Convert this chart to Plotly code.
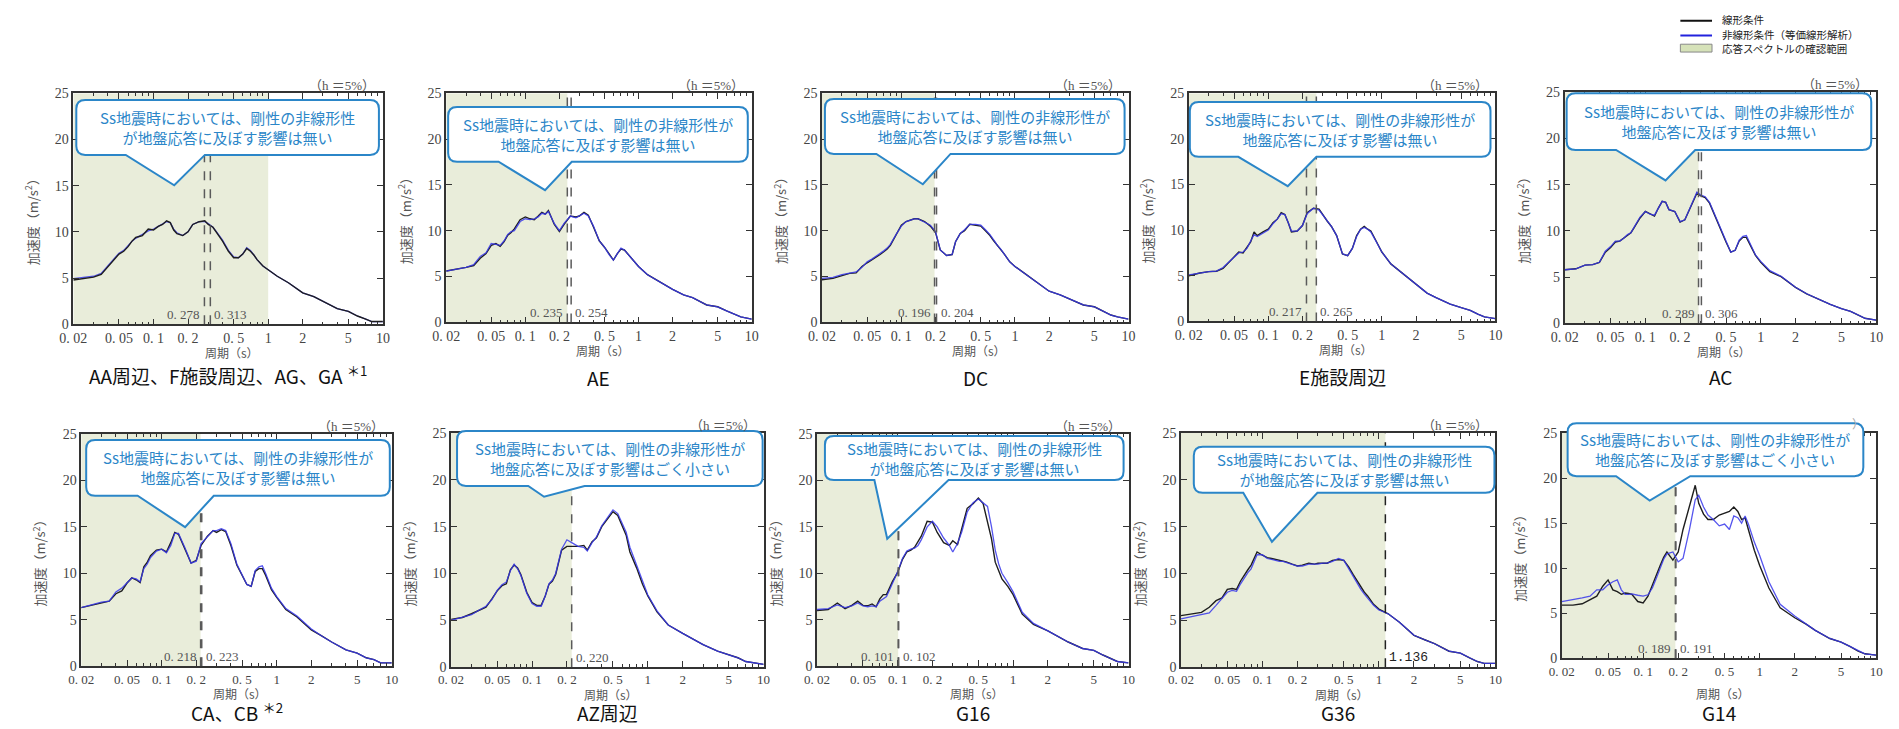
import math
import plotly.graph_objects as go

# ---------------- data ----------------
PERIOD = [0.02, 0.025, 0.03, 0.035, 0.04, 0.045, 0.05, 0.055, 0.06, 0.065,
          0.07, 0.075, 0.08, 0.09, 0.1, 0.11, 0.12, 0.13, 0.14, 0.15,
          0.16, 0.18, 0.2, 0.22, 0.25, 0.28, 0.3, 0.33, 0.36, 0.4,
          0.45, 0.5, 0.55, 0.6, 0.65, 0.7, 0.75, 0.8, 0.9, 1.0,
          1.2, 1.5, 2, 2.5, 3, 4, 5, 6, 7, 8,
          10]

LIN_AA = [4.8, 5.0, 5.1, 5.4, 6.2, 7.0, 7.6, 7.9, 8.4, 9.0,
          9.4, 9.5, 9.6, 10.3, 10.2, 10.6, 10.8, 11.2, 11.0, 10.2,
          9.8, 9.6, 10.0, 10.8, 11.1, 11.2, 10.8, 10.5, 9.8, 9.0,
          7.9, 7.2, 7.2, 7.6, 8.2, 7.9, 7.5, 7.0, 6.3, 5.9,
          5.2, 4.5, 3.4, 3.0, 2.5, 1.7, 1.4, 0.9, 0.6, 0.3,
          0.3]
NL_AA = [4.95, 5.1, 5.2, 5.5, 6.3, 7.1, 7.7, 8.0, 8.5, 9.0,
         9.3, 9.5, 9.7, 10.1, 10.3, 10.6, 10.9, 11.1, 11.0, 10.3,
         9.9, 9.6, 10.0, 10.8, 11.1, 11.1, 10.9, 10.5, 9.9, 9.1,
         8.0, 7.3, 7.2, 7.6, 8.3, 8.0, 7.5, 7.0, 6.3, 5.9,
         5.2, 4.5, 3.4, 3.0, 2.5, 1.7, 1.4, 0.9, 0.6, 0.3,
         0.3]

LIN_AE = [5.6, 5.8, 6.0, 6.2, 7.0, 7.5, 8.4, 8.6, 8.3, 8.8,
          9.5, 9.8, 10.2, 11.2, 11.5, 11.3, 11.2, 11.6, 12.0, 11.8,
          12.2, 10.7, 9.9, 10.7, 11.6, 11.5, 11.6, 12.0, 11.7, 10.4,
          8.9, 8.2, 7.4, 6.8, 7.5, 8.0, 7.9, 7.5, 6.7, 6.1,
          5.2, 4.5, 3.6, 3.0, 2.7, 1.9, 1.7, 1.25, 0.9, 0.6,
          0.35]
NL_AE = [5.6, 5.8, 6.0, 6.3, 7.2, 7.6, 8.6, 8.5, 8.4, 8.9,
         9.6, 9.9, 10.0, 11.0, 11.3, 11.2, 11.3, 11.5, 11.9, 11.8,
         12.1, 10.8, 10.0, 10.8, 11.6, 11.4, 11.6, 11.9, 11.6, 10.5,
         8.9, 8.2, 7.4, 6.8, 7.5, 8.1, 7.9, 7.5, 6.7, 6.1,
         5.2, 4.5, 3.6, 3.0, 2.7, 1.9, 1.7, 1.25, 0.9, 0.6,
         0.35]

LIN_DC = [4.65, 4.8, 5.1, 5.35, 5.4, 6.1, 6.5, 6.8, 7.1, 7.4,
          7.7, 8.0, 8.4, 9.5, 10.6, 11.0, 11.2, 11.3, 11.3, 11.1,
          11.0, 10.5, 9.8, 7.9, 7.3, 7.4, 8.8, 9.7, 10.0, 10.7,
          10.6, 10.5, 10.0, 9.5, 8.9, 8.4, 8.0, 7.5, 6.6, 6.1,
          5.4, 4.5, 3.4, 3.0, 2.6, 1.9, 1.7, 1.25, 0.8, 0.6,
          0.35]
NL_DC = [4.8, 4.9, 5.2, 5.4, 5.5, 6.0, 6.6, 6.9, 7.2, 7.5,
         7.8, 8.1, 8.5, 9.6, 10.5, 11.0, 11.2, 11.3, 11.3, 11.1,
         11.0, 10.6, 9.9, 7.9, 7.3, 7.4, 8.8, 9.7, 10.1, 10.7,
         10.7, 10.6, 10.1, 9.6, 9.0, 8.4, 8.0, 7.5, 6.6, 6.1,
         5.4, 4.5, 3.4, 3.0, 2.6, 1.9, 1.7, 1.25, 0.8, 0.6,
         0.35]

LIN_E = [5.0, 5.3, 5.45, 5.5, 5.8, 6.5, 7.1, 7.6, 7.5, 8.2,
         8.7, 9.8, 9.4, 9.8, 10.1, 10.8, 11.2, 11.9, 11.7, 10.8,
         9.8, 9.9, 10.5, 11.9, 12.4, 12.3, 11.7, 11.0, 10.4, 9.4,
         7.4, 7.2, 8.0, 9.4, 10.1, 10.4, 10.1, 9.9, 8.7, 7.6,
         6.3, 5.3, 4.0, 3.1, 2.6, 1.9, 1.5, 1.2, 0.8, 0.5,
         0.3]
NL_E = [5.1, 5.3, 5.45, 5.5, 5.9, 6.5, 7.0, 7.5, 7.6, 8.0,
        8.8, 9.5, 9.3, 9.7, 10.0, 10.7, 11.2, 11.8, 11.7, 10.8,
        9.9, 9.9, 10.5, 11.8, 12.4, 12.2, 11.7, 11.0, 10.4, 9.4,
        7.4, 7.2, 8.0, 9.3, 10.1, 10.3, 10.1, 9.8, 8.6, 7.6,
        6.3, 5.3, 4.0, 3.1, 2.6, 1.9, 1.5, 1.2, 0.8, 0.5,
        0.3]

LIN_AC = [5.8, 5.9, 6.3, 6.35, 6.6, 7.7, 8.2, 8.8, 8.9, 9.2,
          9.5, 9.8, 10.35, 11.4, 12.1, 11.8, 11.6, 12.5, 13.2, 13.1,
          12.3, 12.1, 10.95, 11.2, 12.8, 14.1, 13.8, 13.6, 13.0, 11.6,
          10.2, 8.8, 7.7, 7.9, 8.9, 9.3, 9.3, 8.6, 7.35, 6.6,
          5.6, 5.05, 3.9, 3.2, 2.75, 2.05, 1.6, 1.3, 0.9, 0.55,
          0.35]
NL_AC = [5.8, 5.9, 6.3, 6.35, 6.6, 7.8, 8.3, 8.9, 8.9, 9.2,
         9.6, 9.8, 10.4, 11.5, 12.1, 11.8, 11.7, 12.5, 13.2, 13.1,
         12.3, 12.1, 11.0, 11.2, 12.8, 14.2, 13.9, 13.7, 13.1, 11.7,
         10.3, 8.9, 7.7, 7.9, 9.0, 9.4, 9.5, 8.7, 7.4, 6.7,
         5.7, 5.1, 3.9, 3.2, 2.75, 2.05, 1.6, 1.3, 0.9, 0.55,
         0.35]

LIN_CA = [6.3, 6.6, 6.85, 7.0, 7.8, 8.1, 8.95, 9.5, 9.3, 9.0,
          10.7, 11.2, 11.9, 12.5, 12.6, 12.3, 13.3, 14.4, 14.2, 13.3,
          12.5, 11.1, 11.4, 13.0, 14.0, 14.6, 14.4, 14.7, 14.5, 13.0,
          10.9, 9.8, 8.8, 8.6, 10.2, 10.5, 10.5, 9.8, 8.25, 7.4,
          6.1, 5.3, 3.9, 3.2, 2.6, 1.75, 1.4, 0.9, 0.7, 0.35,
          0.35]
NL_CA = [6.3, 6.6, 6.9, 7.0, 8.0, 8.4, 9.0, 9.5, 9.4, 9.1,
         10.5, 11.0, 11.7, 12.4, 12.6, 12.2, 13.0, 14.3, 14.3, 13.5,
         12.7, 11.1, 11.3, 13.2, 13.9, 14.6, 14.6, 14.8, 14.6, 13.2,
         11.0, 9.9, 8.8, 8.6, 10.3, 10.7, 10.8, 10.0, 8.4, 7.5,
         6.2, 5.4, 4.0, 3.2, 2.6, 1.75, 1.4, 0.9, 0.7, 0.35,
         0.35]

LIN_AZ = [5.1, 5.3, 5.7, 6.05, 6.4, 7.3, 8.15, 8.7, 8.9, 10.4,
          10.9, 10.6, 9.9, 8.0, 6.9, 6.6, 6.6, 7.6, 8.85, 9.2,
          9.9, 12.5, 12.9, 12.9, 12.9, 13.0, 12.5, 13.4, 13.8, 15.0,
          15.8, 16.6, 16.2, 15.1, 14.1, 12.3, 11.4, 10.6, 8.85, 7.6,
          5.9, 4.5, 3.6, 2.9, 2.4, 1.7, 1.3, 1.0, 0.6, 0.5,
          0.3]
NL_AZ = [5.0, 5.3, 5.6, 6.1, 6.5, 7.2, 8.2, 8.8, 9.1, 10.3,
         11.0, 10.5, 9.8, 7.9, 6.8, 6.5, 6.5, 7.6, 8.9, 9.3,
         10.0, 12.6, 13.6, 13.3, 12.9, 12.8, 12.4, 13.3, 13.9, 15.1,
         16.0, 16.8, 16.4, 15.4, 14.4, 12.8, 11.8, 10.8, 9.0, 7.7,
         6.0, 4.5, 3.6, 2.9, 2.4, 1.7, 1.3, 1.0, 0.6, 0.5,
         0.3]

LIN_G16 = [6.0, 6.1, 6.8, 6.2, 6.55, 7.0, 6.55, 6.5, 6.7, 6.4,
           7.25, 7.7, 7.7, 9.1, 10.1, 11.5, 12.3, 12.5, 12.8, 13.4,
           14.0, 15.6, 15.5, 14.4, 13.3, 13.0, 13.5, 13.1, 14.9, 17.0,
           17.5, 18.1, 17.5, 15.4, 13.7, 11.2, 10.2, 9.4, 8.6, 7.7,
           5.6, 4.5, 3.8, 3.1, 2.6, 1.9, 1.7, 1.2, 0.8, 0.5,
           0.35]
NL_G16 = [6.1, 6.2, 6.6, 6.3, 6.5, 6.8, 6.5, 6.4, 6.5, 6.4,
          7.0, 7.3, 7.5, 8.9, 10.2, 11.6, 12.4, 12.6, 12.7, 13.0,
          13.6, 15.0, 15.6, 15.0, 13.8, 13.0, 12.3, 13.2, 14.5, 16.6,
          17.6, 18.0, 17.6, 17.2, 15.0, 12.5, 11.0, 10.0, 9.0, 8.0,
          5.8, 4.6, 3.8, 3.1, 2.6, 1.9, 1.7, 1.2, 0.8, 0.5,
          0.35]

LIN_G36 = [5.5, 5.7, 5.85, 6.4, 7.1, 7.4, 8.3, 8.4, 8.3, 9.2,
           9.9, 10.4, 10.9, 12.3, 11.95, 11.7, 11.6, 11.5, 11.4, 11.3,
           11.25, 11.0, 10.8, 10.9, 11.1, 11.0, 11.1, 11.1, 11.1, 11.4,
           11.5, 11.4, 10.7, 9.9, 9.2, 8.5, 8.0, 7.6, 6.7, 6.2,
           5.7, 4.8, 3.4, 2.9, 2.5, 1.7, 1.5, 1.0, 0.6, 0.4,
           0.4]
NL_G36 = [5.15, 5.4, 5.6, 5.8, 6.6, 7.4, 8.0, 8.2, 8.1, 8.9,
          9.6, 10.1, 10.5, 12.0, 12.0, 11.6, 11.5, 11.4, 11.3, 11.3,
          11.2, 11.0, 10.8, 10.8, 11.0, 11.0, 11.0, 11.1, 11.1, 11.3,
          11.6, 11.4, 10.5, 9.7, 9.0, 8.3, 7.8, 7.4, 6.6, 6.1,
          5.7, 4.8, 3.4, 2.9, 2.5, 1.7, 1.5, 1.0, 0.6, 0.4,
          0.4]

LIN_G14 = [5.9, 5.9, 6.05, 6.5, 6.9, 8.0, 8.7, 7.6, 7.4, 7.1,
           7.25, 7.2, 7.1, 6.3, 6.15, 6.9, 8.15, 9.4, 10.3, 11.2,
           11.8, 10.9, 11.8, 14.3, 16.8, 19.2, 17.2, 16.0, 15.4, 15.4,
           15.9, 16.1, 16.3, 16.8, 16.3, 15.4, 15.6, 14.3, 12.0, 10.3,
           7.8, 5.6, 4.5, 3.8, 3.1, 2.2, 1.8, 1.3, 0.8, 0.5,
           0.35]
NL_G14 = [6.3, 6.5, 6.7, 6.9, 7.6, 7.6, 8.15, 8.5, 8.7, 7.6,
          7.1, 7.1, 7.15, 7.0, 6.9, 7.05, 7.8, 8.9, 10.0, 11.0,
          11.6, 11.8, 10.7, 11.1, 14.3, 17.6, 18.1, 16.8, 15.9, 15.4,
          14.7, 14.9, 14.3, 15.8, 15.6, 15.0, 15.8, 14.9, 12.9, 11.4,
          8.5, 6.0, 4.7, 3.8, 3.1, 2.2, 1.8, 1.3, 0.9, 0.5,
          0.35]

LIN_SERIES = [LIN_AA, LIN_AE, LIN_DC, LIN_E, LIN_AC, LIN_CA, LIN_AZ, LIN_G16, LIN_G36, LIN_G14]
NL_SERIES = [NL_AA, NL_AE, NL_DC, NL_E, NL_AC, NL_CA, NL_AZ, NL_G16, NL_G36, NL_G14]

CAPTIONS = ["AA周辺、F施設周辺、AG、GA <sup>＊1</sup>", "AE", "DC", "E施設周辺", "AC",
            "CA、CB <sup>＊2</sup>", "AZ周辺", "G16", "G36", "G14"]
RANGE_END = [1.0, 0.235, 0.196, 0.265, 0.289, 0.218, 0.220, 0.101, 1.136, 0.189]
MARK_LEFT = [0.278, 0.235, 0.196, 0.217, 0.289, 0.218, None, 0.101, None, 0.189]
MARK_RIGHT = [0.313, 0.254, 0.204, 0.265, 0.306, 0.223, 0.220, 0.102, 1.136, 0.191]
MARK_LEFT_TEXT = ["0. 278", "0. 235", "0. 196", "0. 217", "0. 289", "0. 218", "", "0. 101", "", "0. 189"]
MARK_RIGHT_TEXT = ["0. 313", "0. 254", "0. 204", "0. 265", "0. 306", "0. 223", "0. 220", "0. 102", "1.136", "0. 191"]

MSG_A = "Ss地震時においては、剛性の非線形性<br>が地盤応答に及ぼす影響は無い"
MSG_B = "Ss地震時においては、剛性の非線形性が<br>地盤応答に及ぼす影響は無い"
MSG_C = "Ss地震時においては、剛性の非線形性が<br>地盤応答に及ぼす影響はごく小さい"
BUBBLE_TEXT = [MSG_A, MSG_B, MSG_B, MSG_B, MSG_B, MSG_B, MSG_C, MSG_A, MSG_A, MSG_C]

TICK_VALS = [0.02, 0.05, 0.1, 0.2, 0.5, 1, 2, 5, 10]
TICK_TEXT = ["0. 02", "0. 05", "0. 1", "0. 2", "0. 5", "1", "2", "5", "10"]
MINOR_VALS = [0.03, 0.04, 0.06, 0.07, 0.08, 0.09, 0.3, 0.4, 0.6, 0.7, 0.8, 0.9,
              3, 4, 6, 7, 8, 9]

LEGEND_TEXT = ["線形条件", "非線形条件（等価線形解析）", "応答スペクトルの確認範囲"]

# ---------------- layout geometry (pixels) ----------------
W, H = 1899, 729
PANEL_BOX = [(60, 88, 373, 324), (437, 88, 746, 322), (817, 88, 1127, 322),
             (1188, 88, 1498, 321), (1568, 87, 1883, 323),
             (68, 436, 382, 673), (442, 435, 758, 674), (812, 436, 1127, 673),
             (1180, 435, 1498, 674), (1565, 435, 1883, 665)]
# left, top, right, bottom, tail-left, tail-right, tip-x, tip-y
BUBBLE_BOX = [(63, 95, 369, 151, 113, 193, 162, 182),
              (439, 102, 742, 158, 490, 564, 537, 187),
              (820, 94, 1123, 150, 872, 947, 919, 181),
              (1189, 97, 1493, 153, 1238, 1317, 1288, 183),
              (1570, 88, 1878, 146, 1620, 1700, 1670, 177),
              (73, 442, 380, 499, 125, 202, 173, 531),
              (448, 433, 757, 489, 520, 577, 536, 500),
              (820, 438, 1122, 483, 870, 945, 883, 543),
              (1193, 449, 1497, 496, 1243, 1318, 1272, 546),
              (1571, 425, 1870, 479, 1620, 1695, 1654, 504)]
CAPTION_Y = [376, 378, 378, 377, 377, 720, 720, 720, 720, 720]
XTITLE_GAP = [29, 29, 29, 29, 29, 28, 28, 28, 28, 36]
TICK_SIZE = [14, 14, 14, 14, 14, 13, 13, 13, 13, 13]


def X(p):
    return p / W


def Y(p):
    return 1 - p / H


SERIF = "Liberation Serif, DejaVu Serif, serif"
CJK = "Noto Sans CJK JP, Noto Sans, sans-serif"
BUBBLE_BLUE = "#2b86c8"

fig = go.Figure()
shapes = []
annotations = []

for i in range(10):
    L, T, R, B = PANEL_BOX[i]
    xn = "x" if i == 0 else f"x{i + 1}"
    yn = "y" if i == 0 else f"y{i + 1}"
    xk = "xaxis" if i == 0 else f"xaxis{i + 1}"
    yk = "yaxis" if i == 0 else f"yaxis{i + 1}"

    lin = dict(x=PERIOD, y=LIN_SERIES[i], xaxis=xn, yaxis=yn, mode="lines",
               line=dict(color="#1e1e1e", width=1.4), showlegend=False,
               name="線形条件")
    nl = dict(x=PERIOD, y=NL_SERIES[i], xaxis=xn, yaxis=yn, mode="lines",
              line=dict(color="rgba(55,55,235,0.85)", width=1.3), showlegend=False,
              name="非線形条件（等価線形解析）")
    if i == 0:
        fig.add_trace(go.Scatter(**nl))
        fig.add_trace(go.Scatter(**lin))
    else:
        fig.add_trace(go.Scatter(**lin))
        fig.add_trace(go.Scatter(**nl))

    fig.layout[xk] = dict(
        domain=[X(L), X(R)], anchor=yn, type="log",
        range=[math.log10(0.02), 1],
        tickmode="array", tickvals=TICK_VALS, ticktext=TICK_TEXT,
        ticks="inside", ticklen=6, tickwidth=1, tickcolor="#333",
        showline=True, linecolor="#333", linewidth=1.5, mirror="allticks",
        showgrid=False, zeroline=False,
        tickfont=dict(family=SERIF, size=TICK_SIZE[i], color="#444"),
        minor=dict(tickmode="array", tickvals=MINOR_VALS, ticks="inside",
                   ticklen=3, tickcolor="#333", showgrid=False),
    )
    fig.layout[yk] = dict(
        domain=[Y(B), Y(T)], anchor=xn, range=[0, 25],
        tickmode="array", tickvals=[0, 5, 10, 15, 20, 25],
        ticks="inside", ticklen=6, tickwidth=1, tickcolor="#333",
        showline=True, linecolor="#333", linewidth=1.5, mirror="allticks",
        showgrid=False, zeroline=False,
        tickfont=dict(family=SERIF, size=14, color="#444"),
    )

    # confirmation range shading
    shapes.append(dict(type="rect", xref=xn, yref=yn, x0=0.02, x1=RANGE_END[i],
                       y0=0, y1=25, fillcolor="#e9edda", line=dict(width=0),
                       layer="below"))
    # dashed period markers
    dash_color = "#222" if i == 8 else "#5a5a5a"
    for v in (MARK_LEFT[i], MARK_RIGHT[i]):
        if v is not None:
            shapes.append(dict(type="line", xref=xn, yref=yn, x0=v, x1=v, y0=0, y1=25,
                               line=dict(color=dash_color, width=1.5, dash="dash"),
                               layer="above"))
    if MARK_LEFT[i] is not None:
        annotations.append(dict(xref=xn, yref=yn, x=math.log10(MARK_LEFT[i]), y=0,
                                xanchor="right", yanchor="bottom", xshift=-2, yshift=0,
                                text=MARK_LEFT_TEXT[i], showarrow=False,
                                font=dict(family=SERIF, size=13, color="#555")))
    annotations.append(dict(xref=xn, yref=yn, x=math.log10(MARK_RIGHT[i]), y=0,
                            xanchor="left", yanchor="bottom", xshift=2, yshift=0,
                            text=MARK_RIGHT_TEXT[i], showarrow=False,
                            font=dict(family=("Liberation Mono, DejaVu Sans Mono" if i == 8 else SERIF),
                                      size=13, color=("#222" if i == 8 else "#555"))))

    # speech bubble
    bl, bt, br, bb, tl, tr, tx, ty = BUBBLE_BOX[i]
    r = 9
    path = (f"M {X(bl + r)},{Y(bt)} L {X(br - r)},{Y(bt)} Q {X(br)},{Y(bt)} {X(br)},{Y(bt + r)} "
            f"L {X(br)},{Y(bb - r)} Q {X(br)},{Y(bb)} {X(br - r)},{Y(bb)} "
            f"L {X(tr)},{Y(bb)} L {X(tx)},{Y(ty)} L {X(tl)},{Y(bb)} "
            f"L {X(bl + r)},{Y(bb)} Q {X(bl)},{Y(bb)} {X(bl)},{Y(bb - r)} "
            f"L {X(bl)},{Y(bt + r)} Q {X(bl)},{Y(bt)} {X(bl + r)},{Y(bt)} Z")
    shapes.append(dict(type="path", xref="paper", yref="paper", path=path,
                       fillcolor="white", line=dict(color=BUBBLE_BLUE, width=2),
                       layer="above"))
    annotations.append(dict(xref="paper", yref="paper", x=X((bl + br) / 2), y=Y((bt + bb) / 2),
                            xanchor="center", yanchor="middle", align="center",
                            text=BUBBLE_TEXT[i], showarrow=False,
                            font=dict(family=CJK, size=15, color=BUBBLE_BLUE)))

    # (h=5%)
    if i == 9:
        annotations.append(dict(xref="paper", yref="paper", x=X(R - 10), y=Y(T - 10),
                                xanchor="right", yanchor="middle", text="）", showarrow=False,
                                font=dict(family=CJK, size=12, color="#aaa")))
    else:
        annotations.append(dict(xref="paper", yref="paper", x=X(R - 6), y=Y(T - 8),
                                xanchor="right", yanchor="middle", text="（h ＝5%）",
                                showarrow=False,
                                font=dict(family=SERIF + ", " + CJK, size=13, color="#555")))
    # axis titles
    annotations.append(dict(xref="paper", yref="paper", x=X(L - 43), y=Y((T + B) / 2 + 10),
                            xanchor="center", yanchor="middle", textangle=-90,
                            text="加速度（m/s<sup>2</sup>）", showarrow=False,
                            font=dict(family=CJK, size=13, color="#555")))
    annotations.append(dict(xref="paper", yref="paper", x=X((L + R) / 2 + 4), y=Y(B + XTITLE_GAP[i]),
                            xanchor="center", yanchor="middle", text="周期（s）",
                            showarrow=False, font=dict(family=CJK, size=12, color="#555")))
    # caption
    annotations.append(dict(xref="paper", yref="paper", x=X((L + R) / 2), y=Y(CAPTION_Y[i]),
                            xanchor="center", yanchor="middle", text=CAPTIONS[i],
                            showarrow=False, font=dict(family=CJK, size=19, color="#111")))

# ---------------- legend (top right) ----------------
LX0, LX1, TX = 1685, 1717, 1725
shapes.append(dict(type="line", xref="paper", yref="paper", x0=X(LX0), x1=X(LX1),
                   y0=Y(14), y1=Y(14), line=dict(color="#111", width=2)))
shapes.append(dict(type="line", xref="paper", yref="paper", x0=X(LX0), x1=X(LX1),
                   y0=Y(29), y1=Y(29), line=dict(color="#2222dd", width=2)))
shapes.append(dict(type="rect", xref="paper", yref="paper", x0=X(LX0), x1=X(LX1),
                   y0=Y(46), y1=Y(38), fillcolor="#d6e2b9", line=dict(color="#888", width=1)))
for k, yy in enumerate((13, 28, 42)):
    annotations.append(dict(xref="paper", yref="paper", x=X(TX), y=Y(yy), xanchor="left",
                            yanchor="middle", text=LEGEND_TEXT[k], showarrow=False,
                            font=dict(family=CJK, size=10.5, color="#222")))

fig.update_layout(width=W, height=H, margin=dict(l=0, r=0, t=0, b=0),
                  paper_bgcolor="white", plot_bgcolor="white",
                  shapes=shapes, annotations=annotations, showlegend=False)

fig.write_html("out.html")
